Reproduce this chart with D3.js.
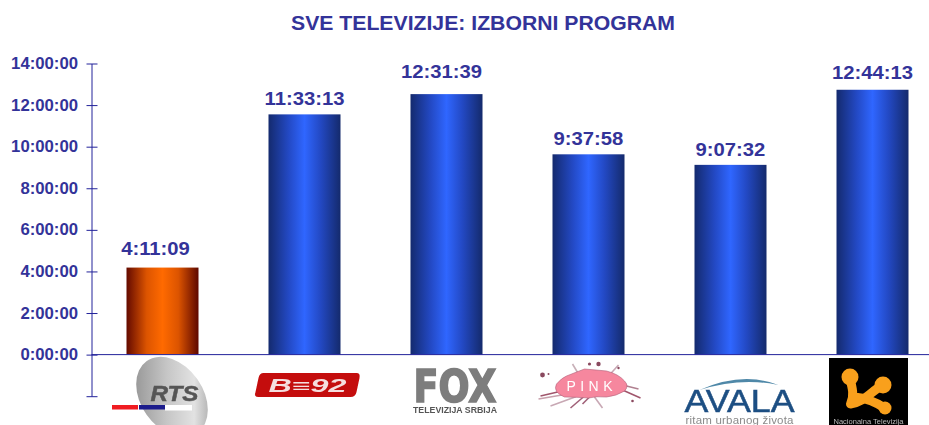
<!DOCTYPE html>
<html><head><meta charset="utf-8">
<script src="https://cdnjs.cloudflare.com/ajax/libs/d3/7.8.5/d3.min.js"></script>
<style>html,body{margin:0;padding:0;background:#fff;overflow:hidden}svg{display:block}text{font-family:"Liberation Sans",Arial,sans-serif}</style>
</head><body><svg id="c" width="929" height="425"></svg>
<script>
const categories=["RTS","B92","FOX","PINK","AVALA","K"];
const durations=["4:11:09","11:33:13","12:31:39","9:37:58","9:07:32","12:44:13"];
const highlighted=["RTS"];
const tickHours=[-2,0,2,4,6,8,10,12,14];
const titleText="SVE TELEVIZIJE: IZBORNI PROGRAM";
const INK="#333399",AXIS="#22229a";
const W=929,H=425;
const toHours=s=>{const p=s.split(":").map(Number);return p[0]+p[1]/60+p[2]/3600};
const svg=d3.select("#c");
const pad=70/142;
const x=d3.scaleBand().domain(categories).range([91.5,943.5]).paddingInner(pad).paddingOuter(pad/2);
const y=d3.scaleLinear().domain([-2,14]).range([396.2,63.5]);
const defs=svg.append("defs");
function grad(id,stops){const g=defs.append("linearGradient").attr("id",id);
 stops.forEach(s=>g.append("stop").attr("offset",s[0]).attr("stop-color",s[1]));}
grad("gBlue",[[0,"#142a6e"],[.28,"#2349c4"],[.5,"#2f66ff"],[.72,"#2349c4"],[1,"#142a6c"]]);
grad("gOrange",[[0,"#640a00"],[.28,"#dc5400"],[.5,"#ff6a00"],[.72,"#dc5400"],[1,"#5e0800"]]);
const sg=defs.append("linearGradient").attr("id","gGrey").attr("x1",0).attr("y1",0).attr("x2",1).attr("y2",1);
[[0,"#858585"],[.45,"#c6c6c6"],[.72,"#e2e2e2"],[1,"#8a8a8a"]].forEach(s=>sg.append("stop").attr("offset",s[0]).attr("stop-color",s[1]));
defs.append("filter").attr("id","soft").append("feGaussianBlur").attr("stdDeviation",0.5);
const stretch=(sel,k)=>sel.each(function(){const t=d3.select(this);t.attr("textLength",this.getComputedTextLength()*k).attr("lengthAdjust","spacingAndGlyphs")});

svg.append("text").attr("x",483).attr("y",30).attr("text-anchor","middle").attr("font-size",21).attr("font-weight",700).attr("fill",INK).attr("textLength",384).attr("lengthAdjust","spacingAndGlyphs").text(titleText);

svg.selectAll("rect.bar").data(categories).join("rect").attr("class","bar")
 .attr("x",d=>x(d)).attr("width",x.bandwidth())
 .attr("y",(d,i)=>y(toHours(durations[i]))).attr("height",(d,i)=>y(0)-y(toHours(durations[i])))
 .attr("fill",d=>highlighted.includes(d)?"url(#gOrange)":"url(#gBlue)");

/* label nudges as placed in the original chart */
const labelLift=[13,9,16,9,9,11], labelShift=[-7,0,-5,0,0,0];
svg.selectAll("text.val").data(categories).join("text").attr("class","val")
 .attr("x",(d,i)=>x(d)+x.bandwidth()/2+labelShift[i]).attr("y",(d,i)=>y(toHours(durations[i]))-labelLift[i])
 .attr("text-anchor","middle").attr("font-size",19).attr("font-weight",700).attr("fill",INK)
 .text((d,i)=>durations[i]).call(stretch,1.066);

const yAxis=d3.axisLeft(y).tickValues(tickHours).tickSize(0).tickFormat(d=>d<0?"":d+":00:00");
const ga=svg.append("g").attr("transform","translate(91.5,0)").call(yAxis);
ga.select(".domain").attr("stroke",AXIS).attr("stroke-width",1);
ga.selectAll(".tick line").attr("x1",-5).attr("x2",6).attr("stroke",AXIS);
ga.selectAll(".tick text").attr("x",-13.5).attr("font-size",16).attr("font-weight",700).attr("fill",INK).attr("font-family",'"Liberation Sans",Arial,sans-serif').call(stretch,1.045);
svg.append("line").attr("x1",91.5).attr("x2",W).attr("y1",y(0)).attr("y2",y(0)).attr("stroke",AXIS).attr("stroke-width",1);

/* channel logos, drawn around each category's band centre */
const logos=svg.append("g");
const at=c=>logos.append("g").attr("transform",`translate(${x(c)+x.bandwidth()/2},0)`).attr("filter","url(#soft)");
{const g=at("RTS");
 g.append("ellipse").attr("cx",9.5).attr("cy",397).attr("rx",31).attr("ry",44).attr("transform","rotate(-35 9.5 397)").attr("fill","url(#gGrey)");
 g.append("text").attr("x",12).attr("y",400.5).attr("text-anchor","middle").attr("font-size",22).attr("font-weight",700).attr("font-style","italic").attr("fill","#555").attr("stroke","#555").attr("stroke-width",.5).attr("textLength",48).attr("lengthAdjust","spacingAndGlyphs").text("RTS");
 g.append("rect").attr("x",-50.5).attr("y",405).attr("width",26).attr("height",4.5).attr("fill","#f01a22");
 g.append("rect").attr("x",-23.5).attr("y",405).attr("width",26).attr("height",4.5).attr("fill","#1c1a8c");
 g.append("rect").attr("x",2.5).attr("y",405).attr("width",27).attr("height",5.5).attr("fill","#fff");
}
{const g=at("B92");
 g.append("path").attr("d","M-45 373H52Q56 373 55 378L52 392Q51 397 46 397H-46Q-51 397 -49 392L-46 378Q-45 373 -41 373Z").attr("fill","#c40d0d");
 g.append("text").attr("x",3).attr("y",391.5).attr("text-anchor","middle").attr("font-size",18).attr("font-weight",700).attr("font-style","italic").attr("fill","#f5dede").attr("textLength",78).attr("lengthAdjust","spacingAndGlyphs").text("B≡92");
}
{const g=at("FOX");
 g.append("text").attr("x",8.5).attr("y",402).attr("text-anchor","middle").attr("font-size",45).attr("font-weight",700).attr("fill","#7d7d7d").attr("stroke","#7d7d7d").attr("stroke-width",1.6).style("font-family",'"DejaVu Sans"').attr("textLength",83).attr("lengthAdjust","spacingAndGlyphs").text("FOX");
 g.append("text").attr("x",8.5).attr("y",412.5).attr("text-anchor","middle").attr("font-size",9.5).attr("font-weight",700).attr("fill","#555").attr("textLength",84).attr("lengthAdjust","spacingAndGlyphs").text("TELEVIZIJA SRBIJA");
}
{const g=at("PINK");
 const rays=[[-48,396,-18,389,"#a0566c"],[-50,399,-15,393,"#c8a0ac"],[-38,406,-8,395,"#c8a8b4"],[-18,408,-4,396,"#a06078"],[14,408,6,397,"#c8a8b4"],[30,365,20,376,"#c8a8b4"],[50,389,30,384,"#b08090"],[52,398,34,390,"#a0566c"],[-6,404,2,396,"#a06078"],[-16,364,-10,374,"#c8b0b8"]];
 g.selectAll("line").data(rays).join("line").attr("x1",d=>d[0]).attr("y1",d=>d[1]).attr("x2",d=>d[2]).attr("y2",d=>d[3]).attr("stroke",d=>d[4]).attr("stroke-width",1.6);
 g.selectAll("circle").data([[-46,375,2.4],[-40,374,1],[1,364,1.6],[10,364,2.2],[44,401,1.3],[30,368,1.2]]).join("circle").attr("cx",d=>d[0]).attr("cy",d=>d[1]).attr("r",d=>d[2]).attr("fill","#8a4a5e");
 g.append("path").attr("d","M-32 384Q-27 378 -22 376Q-12 372 -4 369Q8 370 18 371Q30 374 36 381Q41 386 36 391Q28 396 18 397Q8 396 0 398Q-12 397 -24 397Q-36 392 -32 384Z").attr("fill","#f6879e").attr("stroke","#b06078").attr("stroke-width",.6);
 g.append("text").attr("x",1).attr("y",391).attr("text-anchor","middle").attr("font-size",14).attr("fill","#fff").attr("textLength",46).text("PINK");
}
{const g=at("AVALA");
 g.append("path").attr("d","M-31 390Q12 371 48 385Q10 377 -31 390Z").attr("fill","#4f88a8");
 g.append("text").attr("x",9).attr("y",411.5).attr("text-anchor","middle").attr("font-size",31).attr("fill","#1d4f83").attr("stroke","#1d4f83").attr("stroke-width",.5).attr("textLength",110).attr("lengthAdjust","spacingAndGlyphs").text("AVALA");
 g.append("text").attr("x",9).attr("y",423.5).attr("text-anchor","middle").attr("font-size",11.5).attr("fill","#8a8a8a").attr("textLength",108).text("ritam urbanog života");
}
{const g=at("K");
 g.append("rect").attr("x",-43.5).attr("y",358).attr("width",79).attr("height",67).attr("fill","#000");
 g.append("path").attr("d","M-23 377C-20 388 -18 396 -22 404C-8 402 -2 392 10 385M-18 397C-6 398 3 402 12 408").attr("fill","none").attr("stroke","#f9a01b").attr("stroke-width",9).attr("stroke-linecap","round").attr("stroke-linejoin","round");
 g.selectAll("circle").data([[-22.5,377,8.5],[10.5,385,8.5],[12.5,408,6.5]]).join("circle").attr("cx",d=>d[0]).attr("cy",d=>d[1]).attr("r",d=>d[2]).attr("fill","#f9a01b");
 g.append("text").attr("x",-4).attr("y",423.5).attr("text-anchor","middle").attr("font-size",7.5).attr("fill","#bdbdbd").attr("textLength",70).text("Nacionalna Televizija");
}
</script></body></html>
